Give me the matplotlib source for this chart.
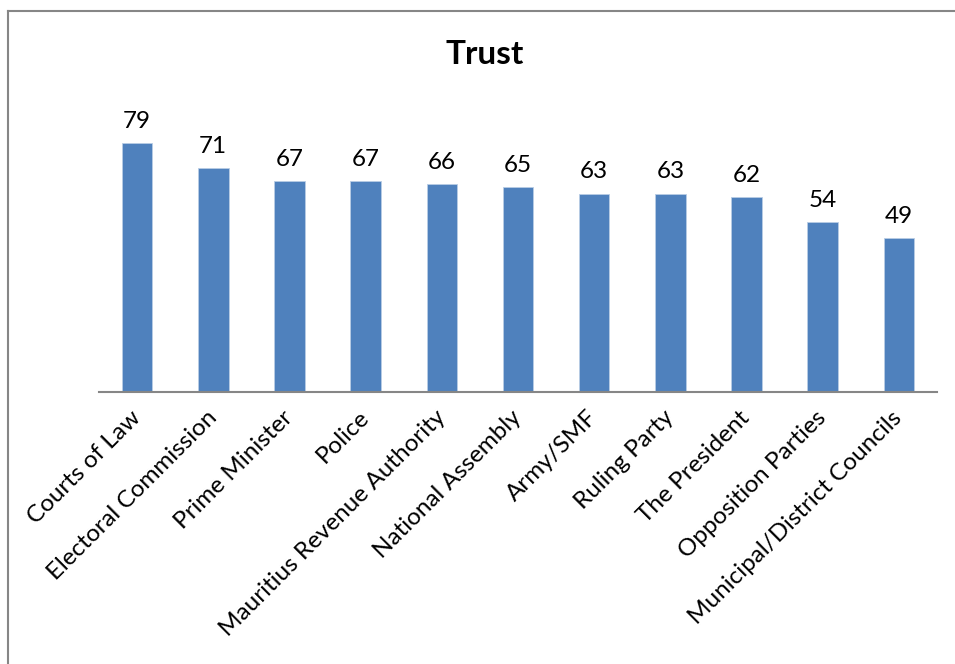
import matplotlib.pyplot as plt
from matplotlib.lines import Line2D

# data
categories = ["Courts of Law", "Electoral Commission", "Prime Minister", "Police",
              "Mauritius Revenue Authority", "National Assembly", "Army/SMF",
              "Ruling Party", "The President", "Opposition Parties",
              "Municipal/District Councils"]
values = [79, 71, 67, 67, 66, 65, 63, 63, 62, 54, 49]

plt.rcParams['font.family'] = ['Lato', 'DejaVu Sans']

W, H = 955, 664
fig = plt.figure(figsize=(W / 100, H / 100), dpi=100)
ax = fig.add_axes([99 / W, 1 - 392 / H, 838 / W, 315 / H])

x = range(len(categories))
bars = ax.bar(x, values, width=0.40, color='#4F81BD', edgecolor='#B9CDE5', linewidth=0.6)

for xi, v in zip(x, values):
    ax.annotate(str(v), (xi, v), xytext=(0, 8), textcoords='offset points',
                ha='center', va='bottom', fontsize=17.5)

ax.set_xlim(-0.5, len(categories) - 0.5)
ax.set_ylim(0, 100)
ax.set_yticks([])
for s in ['top', 'right', 'left']:
    ax.spines[s].set_visible(False)
ax.spines['bottom'].set_color('#868686')
ax.spines['bottom'].set_linewidth(1.5)
ax.set_xticks(list(x))
ax.set_xticklabels(categories, rotation=45, ha='right', va='center',
                   rotation_mode='anchor', fontsize=17.5)
ax.tick_params(axis='x', length=0, pad=16)

fig.text(485 / W, 1 - 55 / H, "Trust", ha='center', va='center',
         fontsize=24, fontweight='bold')

# chart border (only top and left are inside the picture)
fig.add_artist(Line2D([7.5 / W, 7.5 / W], [0, 1 - 10.5 / H], color='#868686', lw=1.5,
                      transform=fig.transFigure))
fig.add_artist(Line2D([7.5 / W, 1], [1 - 10.5 / H, 1 - 10.5 / H], color='#868686', lw=1.5,
                      transform=fig.transFigure))

fig.savefig('out.png', dpi=100)
